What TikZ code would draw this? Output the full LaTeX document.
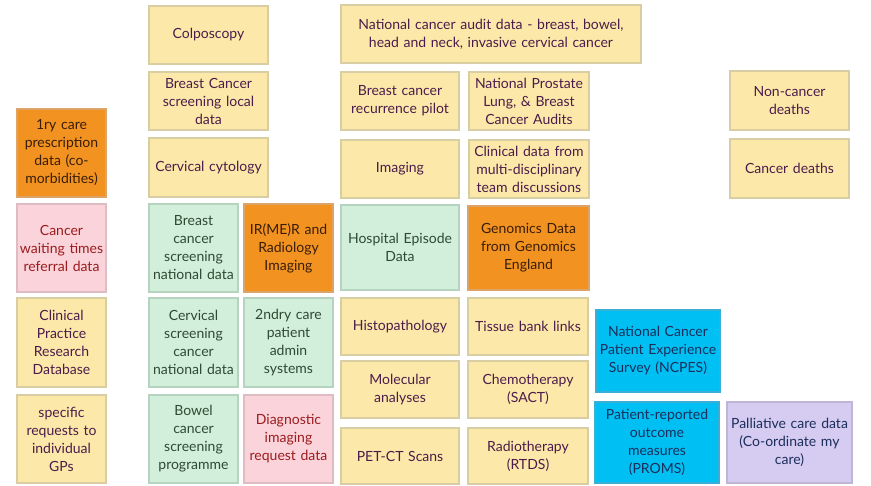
\documentclass[tikz,border=0pt]{standalone}
\usepackage{fontspec}
\setmainfont{Lato}
\usetikzlibrary{positioning}
\definecolor{yelF}{HTML}{FCE9A9}
\definecolor{yelD}{HTML}{D9CDA4}
\definecolor{yelT}{HTML}{4B1C4B}
\definecolor{grnF}{HTML}{D2EFDB}
\definecolor{grnD}{HTML}{B5D3BF}
\definecolor{grnT}{HTML}{2F4A33}
\definecolor{pnkF}{HTML}{FAD3DB}
\definecolor{pnkD}{HTML}{DDBCC2}
\definecolor{pnkT}{HTML}{9C1C1E}
\definecolor{orgF}{HTML}{F29321}
\definecolor{orgD}{HTML}{DDA46A}
\definecolor{orgT}{HTML}{3A1D08}
\definecolor{bluF}{HTML}{00BFF2}
\definecolor{bluD}{HTML}{3BAED6}
\definecolor{bluT}{HTML}{1B2E5C}
\definecolor{lavF}{HTML}{D6CBF1}
\definecolor{lavD}{HTML}{BFB6D6}
\definecolor{lavT}{HTML}{1B2E5C}
\tikzset{
  cell/.style={rectangle, line width=1.1pt, inner sep=0pt, align=center,
    font=\fontsize{14}{18}\selectfont},
  yel/.style={cell, fill=yelF, draw=yelD, text=yelT},
  grn/.style={cell, fill=grnF, draw=grnD, text=grnT},
  pnk/.style={cell, fill=pnkF, draw=pnkD, text=pnkT},
  org/.style={cell, fill=orgF, draw=orgD, text=orgT},
  blu/.style={cell, fill=bluF, draw=bluD, text=bluT},
  lav/.style={cell, fill=lavF, draw=lavD, text=lavT},
}
% #1 style, #2 name, #3 x1, #4 y1, #5 x2, #6 y2, #7 text
\newcommand\cellbox[7]{%
  \node[#1, minimum width={(#5-#3)*1pt}, minimum height={(#6-#4)*1pt},
        text width={(#5-#3-2)*1pt}] (#2) at ({(#3+#5)/2},{(#4+#6)/2+1}) {#7};}
\begin{document}
\begin{tikzpicture}[x=1pt,y=-1pt]
\useasboundingbox (0,0) rectangle (871,486);
% column 1
\cellbox{org}{ry}{17}{108}{106}{196}{1ry care\\prescription\\data (co-\\morbidities)}
\cellbox{pnk}{cwt}{17}{203}{106}{291}{Cancer\\waiting times\\referral data}
\cellbox{yel}{cprd}{17}{297}{106}{386}{Clinical\\Practice\\Research\\Database}
\cellbox{yel}{gps}{17}{394}{106}{482}{specific\\requests to\\individual\\GPs}
% column 2
\cellbox{yel}{colp}{149}{5}{268}{63}{Colposcopy}
\cellbox{yel}{bcsl}{149}{71}{268}{129}{Breast Cancer\\screening local\\data}
\cellbox{yel}{cyto}{149}{137}{268}{196}{Cervical cytology}
\cellbox{grn}{bcsn}{149}{203}{238}{291}{Breast\\cancer\\screening\\national data}
\cellbox{grn}{cscn}{149}{297}{238}{386}{Cervical\\screening\\cancer\\national data}
\cellbox{grn}{bowel}{149}{394}{238}{482}{Bowel\\cancer\\screening\\programme}
\cellbox{org}{irmer}{244}{203}{333}{291}{IR(ME)R and\\Radiology\\Imaging}
\cellbox{grn}{second}{244}{297}{333}{386}{2ndry care\\patient\\admin\\systems}
\cellbox{pnk}{diag}{244}{394}{333}{482}{Diagnostic\\imaging\\request data}
% column 3
\cellbox{yel}{audit}{341}{4}{641}{62}{National cancer audit data - breast, bowel,\\head and neck, invasive cervical cancer}
\cellbox{yel}{recur}{341}{71}{459}{129}{Breast cancer\\recurrence pilot}
\cellbox{yel}{imag}{341}{139}{459}{197}{Imaging}
\cellbox{grn}{hes}{341}{204}{459}{289}{Hospital Episode\\Data}
\cellbox{yel}{histo}{341}{297}{459}{354}{Histopathology}
\cellbox{yel}{molec}{341}{360}{459}{417}{Molecular\\analyses}
\cellbox{yel}{pet}{341}{427}{459}{483}{PET-CT Scans}
% column 4
\cellbox{yel}{npla}{469}{71}{589}{129}{National Prostate\\Lung, \& Breast\\Cancer Audits}
\cellbox{yel}{mdt}{469}{139}{589}{197}{Clinical data from\\multi-disciplinary\\team discussions}
\cellbox{org}{genom}{468}{205}{589}{289}{Genomics Data\\from Genomics\\England}
\cellbox{yel}{tissue}{468}{297}{588}{354}{Tissue bank links}
\cellbox{yel}{chemo}{468}{360}{588}{417}{Chemotherapy\\(SACT)}
\cellbox{yel}{radio}{468}{427}{588}{483}{Radiotherapy\\(RTDS)}
% column 5
\cellbox{blu}{ncpes}{596}{309}{720}{391}{National Cancer\\Patient Experience\\Survey (NCPES)}
\cellbox{blu}{proms}{595}{401}{719}{482}{Patient-reported\\outcome\\measures\\(PROMS)}
\cellbox{lav}{pall}{727}{401}{852}{482}{Palliative care data\\(Co-ordinate my\\care)}
% right column
\cellbox{yel}{noncd}{730}{70}{849}{129}{Non-cancer\\deaths}
\cellbox{yel}{cd}{730}{138}{849}{197}{Cancer deaths}
\end{tikzpicture}
\end{document}
